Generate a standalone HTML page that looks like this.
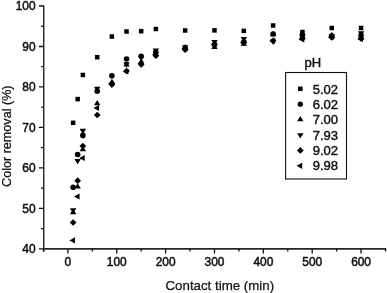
<!DOCTYPE html>
<html><head><meta charset="utf-8"><style>
html,body{margin:0;padding:0;background:#fff;}
body{width:387px;height:293px;overflow:hidden;}
svg{display:block;will-change:transform;}
text{font-family:"Liberation Sans",sans-serif;fill:#111;stroke:#111;stroke-width:0.5px;}
.tl{font-size:11.9px;}
.lg{font-size:12.2px;stroke-width:0.4px;}
.at{font-size:12.8px;stroke-width:0.25px;}
</style></head><body>
<svg width="387" height="293" viewBox="0 0 387 293">
<g fill="none" stroke="#111" stroke-width="1.3">
<path d="M43.75 5.4V251.70000000000002"/>
<path d="M43.15 248.9H386.2" stroke="#262626" stroke-width="1.6"/>
<path d="M43.75 248.90H38.95 M43.75 228.66H41.15 M43.75 208.42H38.95 M43.75 188.18H41.15 M43.75 167.93H38.95 M43.75 147.69H41.15 M43.75 127.45H38.95 M43.75 107.21H41.15 M43.75 86.97H38.95 M43.75 66.72H41.15 M43.75 46.48H38.95 M43.75 26.24H41.15 M43.75 6.00H38.95 M43.47 248.9V251.50 M67.90 248.9V253.50 M92.33 248.9V251.50 M116.76 248.9V253.50 M141.19 248.9V251.50 M165.62 248.9V253.50 M190.05 248.9V251.50 M214.48 248.9V253.50 M238.91 248.9V251.50 M263.34 248.9V253.50 M287.77 248.9V251.50 M312.20 248.9V253.50 M336.63 248.9V251.50 M361.06 248.9V253.50 M385.49 248.9V251.50"/>
<rect x="285.6" y="72.5" width="60.9" height="106.5" stroke-width="1.1"/>
</g>
<g fill="#000">
<rect x="70.89" y="120.55" width="4.5" height="4.5"/>
<rect x="75.42" y="96.85" width="4.5" height="4.5"/>
<rect x="80.61" y="72.75" width="4.5" height="4.5"/>
<rect x="94.97" y="54.95" width="4.5" height="4.5"/>
<rect x="109.62" y="34.25" width="4.5" height="4.5"/>
<rect x="124.28" y="29.25" width="4.5" height="4.5"/>
<rect x="138.94" y="28.95" width="4.5" height="4.5"/>
<rect x="153.60" y="26.75" width="4.5" height="4.5"/>
<rect x="182.91" y="28.25" width="4.5" height="4.5"/>
<rect x="212.23" y="28.15" width="4.5" height="4.5"/>
<rect x="241.55" y="28.65" width="4.5" height="4.5"/>
<rect x="270.86" y="23.25" width="4.5" height="4.5"/>
<rect x="300.18" y="29.75" width="4.5" height="4.5"/>
<rect x="329.49" y="25.75" width="4.5" height="4.5"/>
<rect x="358.81" y="25.75" width="4.5" height="4.5"/>
<circle cx="73.14" cy="187.20" r="2.8"/>
<circle cx="77.67" cy="154.50" r="2.8"/>
<circle cx="82.86" cy="135.40" r="2.8"/>
<circle cx="97.22" cy="91.20" r="2.8"/>
<circle cx="111.87" cy="75.80" r="2.8"/>
<circle cx="126.53" cy="59.00" r="2.8"/>
<circle cx="141.19" cy="56.20" r="2.8"/>
<circle cx="155.85" cy="52.40" r="2.8"/>
<circle cx="185.16" cy="48.50" r="2.8"/>
<circle cx="214.48" cy="44.50" r="2.8"/>
<circle cx="243.80" cy="42.00" r="2.8"/>
<circle cx="273.11" cy="34.00" r="2.8"/>
<circle cx="302.43" cy="35.00" r="2.8"/>
<circle cx="331.74" cy="36.00" r="2.8"/>
<circle cx="361.06" cy="35.50" r="2.8"/>
<path d="M73.14 208.85L76.34 214.15L69.94 214.15Z"/>
<path d="M77.67 183.15L80.87 188.45L74.47 188.45Z"/>
<path d="M82.86 145.95L86.06 151.25L79.66 151.25Z"/>
<path d="M97.22 100.05L100.42 105.35L94.02 105.35Z"/>
<path d="M111.87 78.65L115.07 83.95L108.67 83.95Z"/>
<path d="M126.53 61.25L129.73 66.55L123.33 66.55Z"/>
<path d="M141.19 58.35L144.39 63.65L137.99 63.65Z"/>
<path d="M155.85 50.75L159.05 56.05L152.65 56.05Z"/>
<path d="M185.16 43.95L188.36 49.25L181.96 49.25Z"/>
<path d="M214.48 43.75L217.68 49.05L211.28 49.05Z"/>
<path d="M243.80 40.55L247.00 45.85L240.60 45.85Z"/>
<path d="M273.11 30.95L276.31 36.25L269.91 36.25Z"/>
<path d="M302.43 33.85L305.63 39.15L299.23 39.15Z"/>
<path d="M331.74 31.75L334.94 37.05L328.54 37.05Z"/>
<path d="M361.06 34.35L364.26 39.65L357.86 39.65Z"/>
<path d="M69.94 208.15L76.34 208.15L73.14 213.45Z"/>
<path d="M74.47 158.95L80.87 158.95L77.67 164.25Z"/>
<path d="M79.66 128.85L86.06 128.85L82.86 134.15Z"/>
<path d="M94.02 86.85L100.42 86.85L97.22 92.15Z"/>
<path d="M108.67 82.75L115.07 82.75L111.87 88.05Z"/>
<path d="M123.33 62.35L129.73 62.35L126.53 67.65Z"/>
<path d="M137.99 55.65L144.39 55.65L141.19 60.95Z"/>
<path d="M152.65 48.55L159.05 48.55L155.85 53.85Z"/>
<path d="M181.96 45.35L188.36 45.35L185.16 50.65Z"/>
<path d="M211.28 39.95L217.68 39.95L214.48 45.25Z"/>
<path d="M240.60 36.95L247.00 36.95L243.80 42.25Z"/>
<path d="M269.91 39.55L276.31 39.55L273.11 44.85Z"/>
<path d="M299.23 34.35L305.63 34.35L302.43 39.65Z"/>
<path d="M328.54 34.35L334.94 34.35L331.74 39.65Z"/>
<path d="M357.86 31.25L364.26 31.25L361.06 36.55Z"/>
<path d="M73.14 219.15L76.49 222.50L73.14 225.85L69.79 222.50Z"/>
<path d="M77.67 177.35L81.02 180.70L77.67 184.05L74.32 180.70Z"/>
<path d="M82.86 142.65L86.21 146.00L82.86 149.35L79.51 146.00Z"/>
<path d="M97.22 111.65L100.57 115.00L97.22 118.35L93.87 115.00Z"/>
<path d="M111.87 81.15L115.22 84.50L111.87 87.85L108.52 84.50Z"/>
<path d="M126.53 67.65L129.88 71.00L126.53 74.35L123.18 71.00Z"/>
<path d="M141.19 61.05L144.54 64.40L141.19 67.75L137.84 64.40Z"/>
<path d="M155.85 52.35L159.20 55.70L155.85 59.05L152.50 55.70Z"/>
<path d="M185.16 46.35L188.51 49.70L185.16 53.05L181.81 49.70Z"/>
<path d="M214.48 41.15L217.83 44.50L214.48 47.85L211.13 44.50Z"/>
<path d="M243.80 39.25L247.15 42.60L243.80 45.95L240.45 42.60Z"/>
<path d="M273.11 37.45L276.46 40.80L273.11 44.15L269.76 40.80Z"/>
<path d="M302.43 35.15L305.78 38.50L302.43 41.85L299.08 38.50Z"/>
<path d="M331.74 34.15L335.09 37.50L331.74 40.85L328.39 37.50Z"/>
<path d="M361.06 35.15L364.41 38.50L361.06 41.85L357.71 38.50Z"/>
<path d="M69.40 240.40L75.00 237.30L75.00 243.50Z"/>
<path d="M73.94 196.50L79.54 193.40L79.54 199.60Z"/>
<path d="M79.12 158.00L84.72 154.90L84.72 161.10Z"/>
<path d="M93.48 108.00L99.08 104.90L99.08 111.10Z"/>
<path d="M108.14 83.50L113.74 80.40L113.74 86.60Z"/>
<path d="M122.80 71.50L128.40 68.40L128.40 74.60Z"/>
<path d="M137.46 63.40L143.06 60.30L143.06 66.50Z"/>
<path d="M152.11 54.40L157.71 51.30L157.71 57.50Z"/>
<path d="M181.43 48.50L187.03 45.40L187.03 51.60Z"/>
<path d="M210.75 44.50L216.35 41.40L216.35 47.60Z"/>
<path d="M240.06 42.50L245.66 39.40L245.66 45.60Z"/>
<path d="M269.38 41.00L274.98 37.90L274.98 44.10Z"/>
<path d="M298.69 39.50L304.29 36.40L304.29 42.60Z"/>
<path d="M328.01 37.00L333.61 33.90L333.61 40.10Z"/>
<path d="M357.33 39.00L362.93 35.90L362.93 42.10Z"/>
<rect x="298.05" y="86.55" width="4.5" height="4.5"/>
<circle cx="300.30" cy="104.20" r="2.6"/>
<path d="M300.30 116.07L303.50 121.37L297.10 121.37Z"/>
<path d="M297.10 133.23L303.50 133.23L300.30 138.53Z"/>
<path d="M300.30 147.05L303.65 150.40L300.30 153.75L296.95 150.40Z"/>
<path d="M296.57 165.80L302.17 162.70L302.17 168.90Z"/>
</g>
<text x="35.6" y="253.00" text-anchor="end" class="tl">40</text>
<text x="35.6" y="212.52" text-anchor="end" class="tl">50</text>
<text x="35.6" y="172.03" text-anchor="end" class="tl">60</text>
<text x="35.6" y="131.55" text-anchor="end" class="tl">70</text>
<text x="35.6" y="91.07" text-anchor="end" class="tl">80</text>
<text x="35.6" y="50.58" text-anchor="end" class="tl">90</text>
<text x="35.6" y="10.10" text-anchor="end" class="tl">100</text>
<text x="67.90" y="266.4" text-anchor="middle" class="tl">0</text>
<text x="116.76" y="266.4" text-anchor="middle" class="tl">100</text>
<text x="165.62" y="266.4" text-anchor="middle" class="tl">200</text>
<text x="214.48" y="266.4" text-anchor="middle" class="tl">300</text>
<text x="263.34" y="266.4" text-anchor="middle" class="tl">400</text>
<text x="312.20" y="266.4" text-anchor="middle" class="tl">500</text>
<text x="361.06" y="266.4" text-anchor="middle" class="tl">600</text>
<text transform="translate(312.7 93.90) scale(1.07 1)" class="lg">5.02</text>
<text transform="translate(312.7 109.10) scale(1.07 1)" class="lg">6.02</text>
<text transform="translate(312.7 124.30) scale(1.07 1)" class="lg">7.00</text>
<text transform="translate(312.7 139.50) scale(1.07 1)" class="lg">7.93</text>
<text transform="translate(312.7 154.70) scale(1.07 1)" class="lg">9.02</text>
<text transform="translate(312.7 169.90) scale(1.07 1)" class="lg">9.98</text>
<text transform="translate(312.9 67.2) scale(1.07 1)" text-anchor="middle" class="lg">pH</text>
<text x="219.8" y="289.8" text-anchor="middle" class="at" style="font-size:13.3px">Contact time (min)</text>
<text transform="translate(11.2 136.2) rotate(-90)" text-anchor="middle" class="at" style="font-size:12.6px">Color removal (%)</text>
</svg>
</body></html>
